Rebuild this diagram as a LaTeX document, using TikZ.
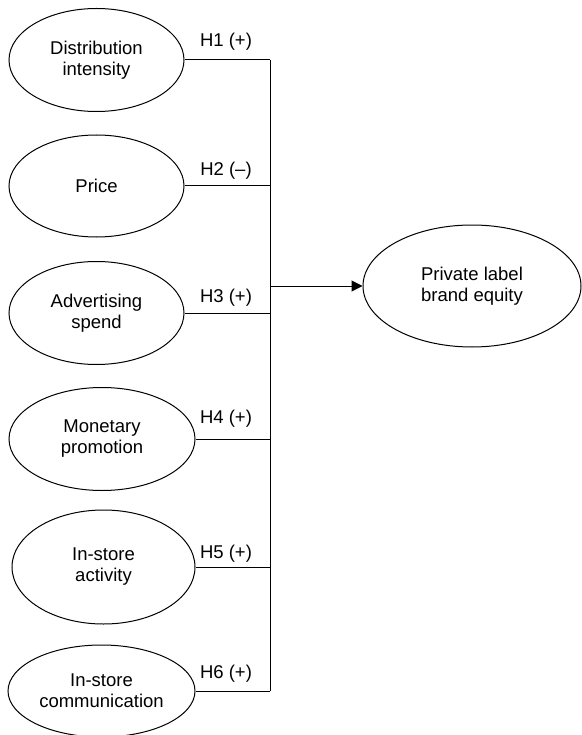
\documentclass[tikz,border=0pt]{standalone}
\usepackage{fontspec}
\setmainfont{Liberation Sans}
\usetikzlibrary{arrows.meta, shapes.geometric}

\tikzset{
  construct/.style={draw, ellipse, inner sep=0pt, align=center, font=\fontsize{18.5}{21}\selectfont},
  hyp/.style={font=\fontsize{18.5}{21}\selectfont}
}

\begin{document}
\begin{tikzpicture}[x=1pt,y=-1pt,line width=1pt]
\useasboundingbox (0,0) rectangle (581,735);

\node[construct,minimum width=175pt,minimum height=103pt] (dist) at (96.5,60) {Distribution\\intensity};
\node[construct,minimum width=175pt,minimum height=102pt] (price) at (96.5,186) {Price};
\node[construct,minimum width=175pt,minimum height=103pt] (adv) at (96.5,313) {Advertising\\spend};
\node[construct,minimum width=186pt,minimum height=103pt] (mon) at (102,439) {Monetary\\promotion};
\node[construct,minimum width=183pt,minimum height=114pt] (act) at (103.5,567) {In-store\\activity};
\node[construct,minimum width=187pt,minimum height=92pt] (com) at (101.5,691) {In-store\\communication};

\node[construct,minimum width=218pt,minimum height=122pt] (ple) at (472,286) {Private label\\brand equity};

\coordinate (top) at (270,60);
\coordinate (bot) at (270,691);
\coordinate (mid) at (270,286);

\draw (dist.east) -- (dist.east -| top);
\draw (price.east) -- (price.east -| top);
\draw (adv.east) -- (adv.east -| top);
\draw (mon.east) -- (mon.east -| top);
\draw (act.east) -- (act.east -| top);
\draw (com.east) -- (com.east -| top);
\draw (top) -- (bot);
\draw[-{Triangle[length=11pt,width=11pt]}] (mid) -- (ple.west);

\node[hyp] (h1) at (226,42) {H1 (+)};
\node[hyp] (h2) at (226,171) {H2 (–)};
\node[hyp] (h3) at (226,298) {H3 (+)};
\node[hyp] (h4) at (226,419) {H4 (+)};
\node[hyp] (h5) at (226,554) {H5 (+)};
\node[hyp] (h6) at (226,674) {H6 (+)};
\end{tikzpicture}
\end{document}
